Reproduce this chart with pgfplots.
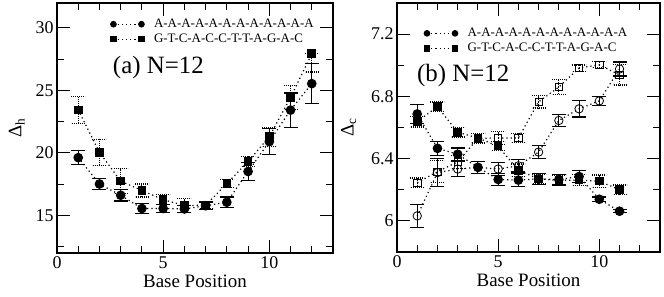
\documentclass[border=0pt]{standalone}
\usepackage{pgfplots}
\usepackage{pgfplotstable}
\pgfplotsset{compat=1.18}
\usepackage{fontspec}
\setmainfont{Liberation Serif}
\newfontfamily\tms{Liberation Serif}

\pgfplotstableread{
x y e
1 19.63 0.58
2 17.52 0.47
3 16.62 0.46
4 15.56 0.37
5 15.56 0.35
6 15.52 0.30
7 15.78 0.30
8 16.06 0.42
9 18.52 0.71
10 20.91 1.06
11 23.43 1.37
12 25.55 1.58
}\hcirc
\pgfplotstableread{
x y ep em
1 23.45 1.06 1.06
2 20.05 1.05 1.05
3 17.75 0.98 0.98
4 17.00 0.52 0.52
5 16.27 0.40 0.40
6 15.80 0.55 0.55
7 15.82 0.30 0.30
8 17.55 0.30 0.30
9 19.32 0.40 0.40
10 21.30 0.76 0.76
11 24.44 0.98 0.98
12 27.94 0.00 1.46
}\hsq
\pgfplotstableread{
x y e
1 6.687 0.060
2 6.466 0.045
3 6.428 0.040
4 6.344 0.040
5 6.266 0.040
6 6.262 0.040
7 6.270 0.035
8 6.265 0.035
9 6.285 0.040
10 6.139 0.015
11 6.062 0.010
}\ccirc
\pgfplotstableread{
x y e
1 6.638 0.035
2 6.734 0.030
3 6.569 0.030
4 6.533 0.030
5 6.480 0.030
6 6.325 0.040
7 6.270 0.030
8 6.260 0.035
9 6.262 0.035
10 6.255 0.040
11 6.200 0.030
}\csq
\pgfplotstableread{
x y e
1 6.032 0.075
2 6.310 0.090
3 6.333 0.050
4 6.344 0.040
5 6.333 0.040
6 6.354 0.040
7 6.442 0.043
8 6.645 0.040
9 6.720 0.052
10 6.771 0.030
11 6.976 0.045
}\ocirc
\pgfplotstableread{
x y e
1 6.245 0.030
2 6.316 0.070
3 6.379 0.040
4 6.530 0.030
5 6.533 0.040
6 6.533 0.030
7 6.765 0.040
8 6.860 0.050
9 6.982 0.020
10 7.003 0.020
11 6.938 0.065
}\osq

\pgfplotsset{
 myaxis/.style={
  scale only axis,
  axis line style={line width=2bp},
  xmin=0,xmax=13,
  xtick={0,5,10}, minor xtick={1,2,3,4,6,7,8,9,11,12},
  tick align=inside,
  major tick length=13bp, minor tick length=7bp,
  every tick/.style={black, line width=1bp},
  tick label style={font=\tms\fontsize{18}{20}\selectfont},
  label style={font=\tms\fontsize{19}{21}\selectfont},
  /pgf/number format/assume math mode=true,
  xlabel={Base Position},
  legend cell align=left,
  legend style={draw=none, fill=none, font=\tms\fontsize{13}{15}\selectfont, inner sep=0pt, row sep=3bp, anchor=north west,
    nodes={inner sep=0pt, text height=9bp, text depth=3bp}},
  legend image code/.code={\draw[##1, mark size=2.7bp] plot coordinates {(0bp,0bp) (28bp,0bp)}; \path (40bp,0bp);},
 },
 ser/.style={black, line width=1.2bp, dash pattern=on 1.2bp off 3bp, mark options={solid}},
 solidbar/.style={error bars/y dir=both, error bars/y explicit,
   error bars/error bar style={solid, line width=1bp},
   error bars/error mark options={rotate=90, mark size=7bp, line width=1.2bp, solid}},
 dotbar/.style={error bars/y dir=both, error bars/y explicit,
   error bars/error bar style={line width=1bp, dash pattern=on 1bp off 1bp},
   error bars/error mark options={rotate=90, mark size=7bp, line width=1.2bp, dash pattern=on 1bp off 1bp}},
 fcirc/.style={mark=*, mark size=4.2bp, mark options={solid, fill=black}},
 fsq/.style={mark=square*, mark size=3.7bp, mark options={solid, fill=black}},
 ocirc/.style={mark=o, mark size=4.2bp, mark options={solid, line width=0.8bp}},
 osq/.style={mark=square, mark size=3.7bp, mark options={solid, line width=0.8bp}},
}

\begin{document}
\begin{tikzpicture}
\path[use as bounding box] (0,0) rectangle (664bp,297bp);

\begin{axis}[myaxis, at={(57bp,44bp)}, anchor=south west,
  width=276bp, height=250bp,
  ymin=12, ymax=32, ytick={15,20,25,30}, minor ytick={12.5,17.5,22.5,27.5},
  ylabel={Δ\textsubscript{h}}, ylabel shift=4bp,
  legend style={at={(0.194,0.94)}},
]
\addplot[ser, fcirc, solidbar] table[x=x, y=y, y error=e] {\hcirc};
\addlegendentry{A-A-A-A-A-A-A-A-A-A-A-A}
\addplot[ser, fsq, dotbar] table[x=x, y=y, y error plus=ep, y error minus=em] {\hsq};
\addlegendentry{G-T-C-A-C-C-T-T-A-G-A-C}
\node[anchor=base west, font=\tms\fontsize{25}{27}\selectfont] at (rel axis cs:0.19,0.716) {(a) N=12};
\end{axis}

\begin{axis}[myaxis, at={(397bp,45bp)}, anchor=south west,
  width=263bp, height=249bp,
  ymin=5.8, ymax=7.4, ytick={6,6.4,6.8,7.2}, minor ytick={6.2,6.6,7.0},
  yticklabels={6,6.4,6.8,7.2},
  ylabel={Δ\textsubscript{c}}, ylabel shift=8bp,
  legend style={at={(0.103,0.903)}},
]
\addplot[forget plot, ser, ocirc, solidbar] table[x=x, y=y, y error=e] {\ocirc};
\addplot[forget plot, ser, osq, dotbar] table[x=x, y=y, y error=e] {\osq};
\addplot[ser, fcirc, solidbar] table[x=x, y=y, y error=e] {\ccirc};
\addlegendentry{A-A-A-A-A-A-A-A-A-A-A-A}
\addplot[ser, fsq, dotbar] table[x=x, y=y, y error=e] {\csq};
\addlegendentry{G-T-C-A-C-C-T-T-A-G-A-C}
\node[anchor=base west, font=\tms\fontsize{25}{27}\selectfont] at (rel axis cs:0.063,0.684) {(b) N=12};
\end{axis}
\end{tikzpicture}
\end{document}
